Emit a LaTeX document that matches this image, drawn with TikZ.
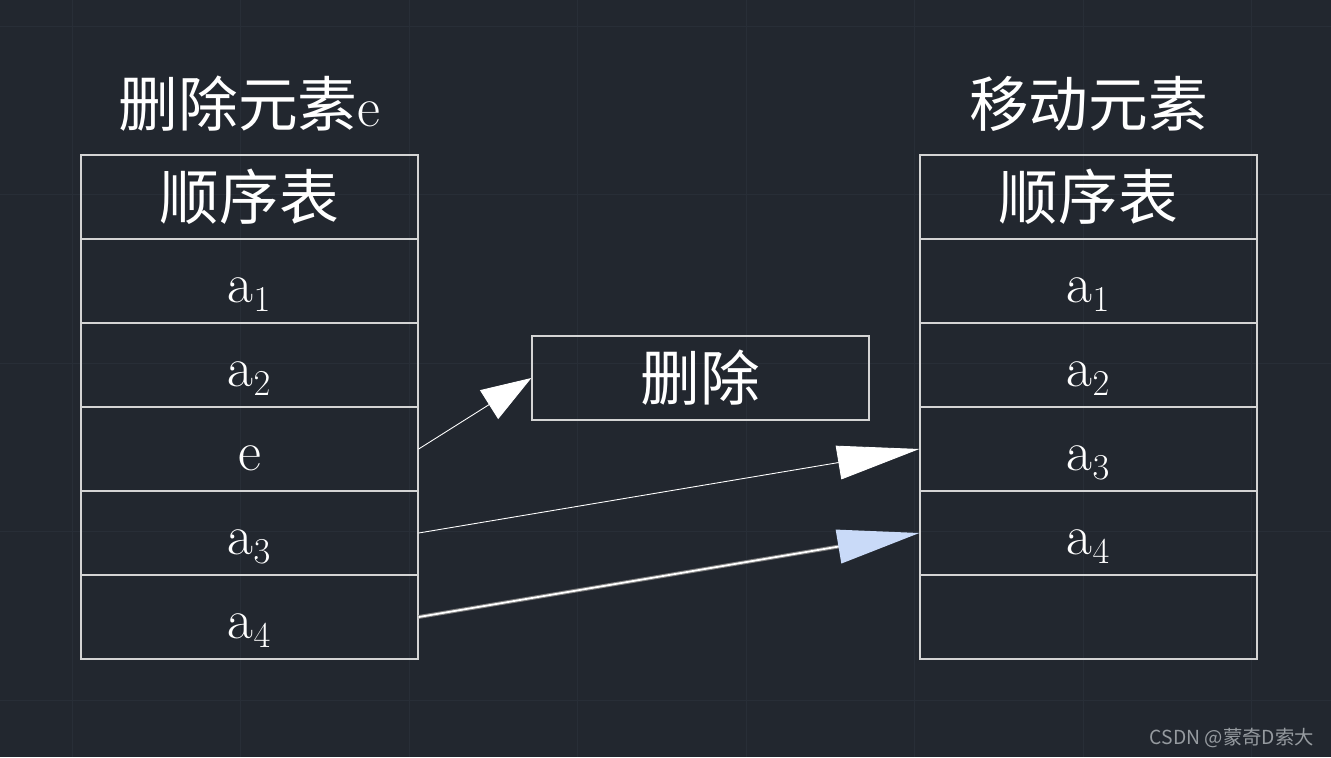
\documentclass[tikz,border=0pt]{standalone}
\usepackage{fontspec}
\newfontfamily\cjk{Noto Sans CJK SC}
\newcommand\hanzi[1]{{\fontsize{34}{40}\selectfont\cjk #1}}
\usetikzlibrary{arrows.meta}
\definecolor{bgcol}{RGB}{34,39,47}
\definecolor{gridcol}{RGB}{40,46,55}
\definecolor{linecol}{RGB}{212,212,212}
\definecolor{headblue}{RGB}{201,218,248}
\definecolor{markgray}{RGB}{150,155,160}
\tikzset{
  cell/.style={draw=linecol, line width=0.8pt, text=white, inner sep=0pt,
    minimum width=6.74cm, minimum height=1.68cm, font=\fontsize{32}{38}\selectfont},
  latin/.style={cell, text height=25pt, text depth=0pt},
  heading/.style={text=white, inner sep=0pt, font=\fontsize{32}{38}\selectfont},
  pointer/.style={draw=white, line width=0.5pt}
}
\begin{document}
\begin{tikzpicture}[x=0.02cm, y=-0.02cm]
    % background and faint grid
    \fill[bgcol] (0,0) rectangle (1331,757);
    \useasboundingbox (0,0) rectangle (1331,757);
    \foreach \gx in {72,240.5,409,577.5,746,914.5,1083,1251.5}
      \draw[gridcol, line width=0.5pt] (\gx,0) -- (\gx,757);
    \foreach \gy in {26,194.5,363,531.5,700}
      \draw[gridcol, line width=0.5pt] (0,\gy) -- (1331,\gy);
    % left table
    \node[heading] (TL) at (249.5,104) {\hanzi{删除元素}e};
    \node[cell] (L0) at (249.5,197) {\hanzi{顺序表}};
    \node[latin] (L1) at (249.5,281) {a$_1$};
    \node[latin] (L2) at (249.5,365) {a$_2$};
    \node[latin] (L3) at (249.5,449) {e};
    \node[latin] (L4) at (249.5,533) {a$_3$};
    \node[latin] (L5) at (249.5,617) {a$_4$};
    % removed element
    \node[cell] (D) at (700.5,378) {\hanzi{删除}};
    % right table
    \node[heading] (TR) at (1088.5,104) {\hanzi{移动元素}};
    \node[cell] (R0) at (1088.5,197) {\hanzi{顺序表}};
    \node[latin] (R1) at (1088.5,281) {a$_1$};
    \node[latin] (R2) at (1088.5,365) {a$_2$};
    \node[latin] (R3) at (1088.5,449) {a$_3$};
    \node[latin] (R4) at (1088.5,533) {a$_4$};
    \node[cell] (R5) at (1088.5,617) {};
    % arrows
    \draw[pointer, -{Triangle[length=1cm, width=0.68cm, color=white]}] (L3.east) -- (D.west);
    \draw[pointer, -{Triangle[length=1.64cm, width=0.68cm, color=white]}] (L4.east) -- (R3.west);
    \draw[gray, line width=2.2pt, shorten >=1.5cm] (L5.east) -- (R4.west);
    \draw[white, line width=1pt, -{Triangle[length=1.64cm, width=0.68cm, color=headblue]}] (L5.east) -- (R4.west);
    % watermark
    \node[anchor=east, text=markgray, inner sep=0pt, font=\fontsize{11}{13}\selectfont] (WM) at (1314,738) {\cjk CSDN @蒙奇D索大};
\end{tikzpicture}
\end{document}
